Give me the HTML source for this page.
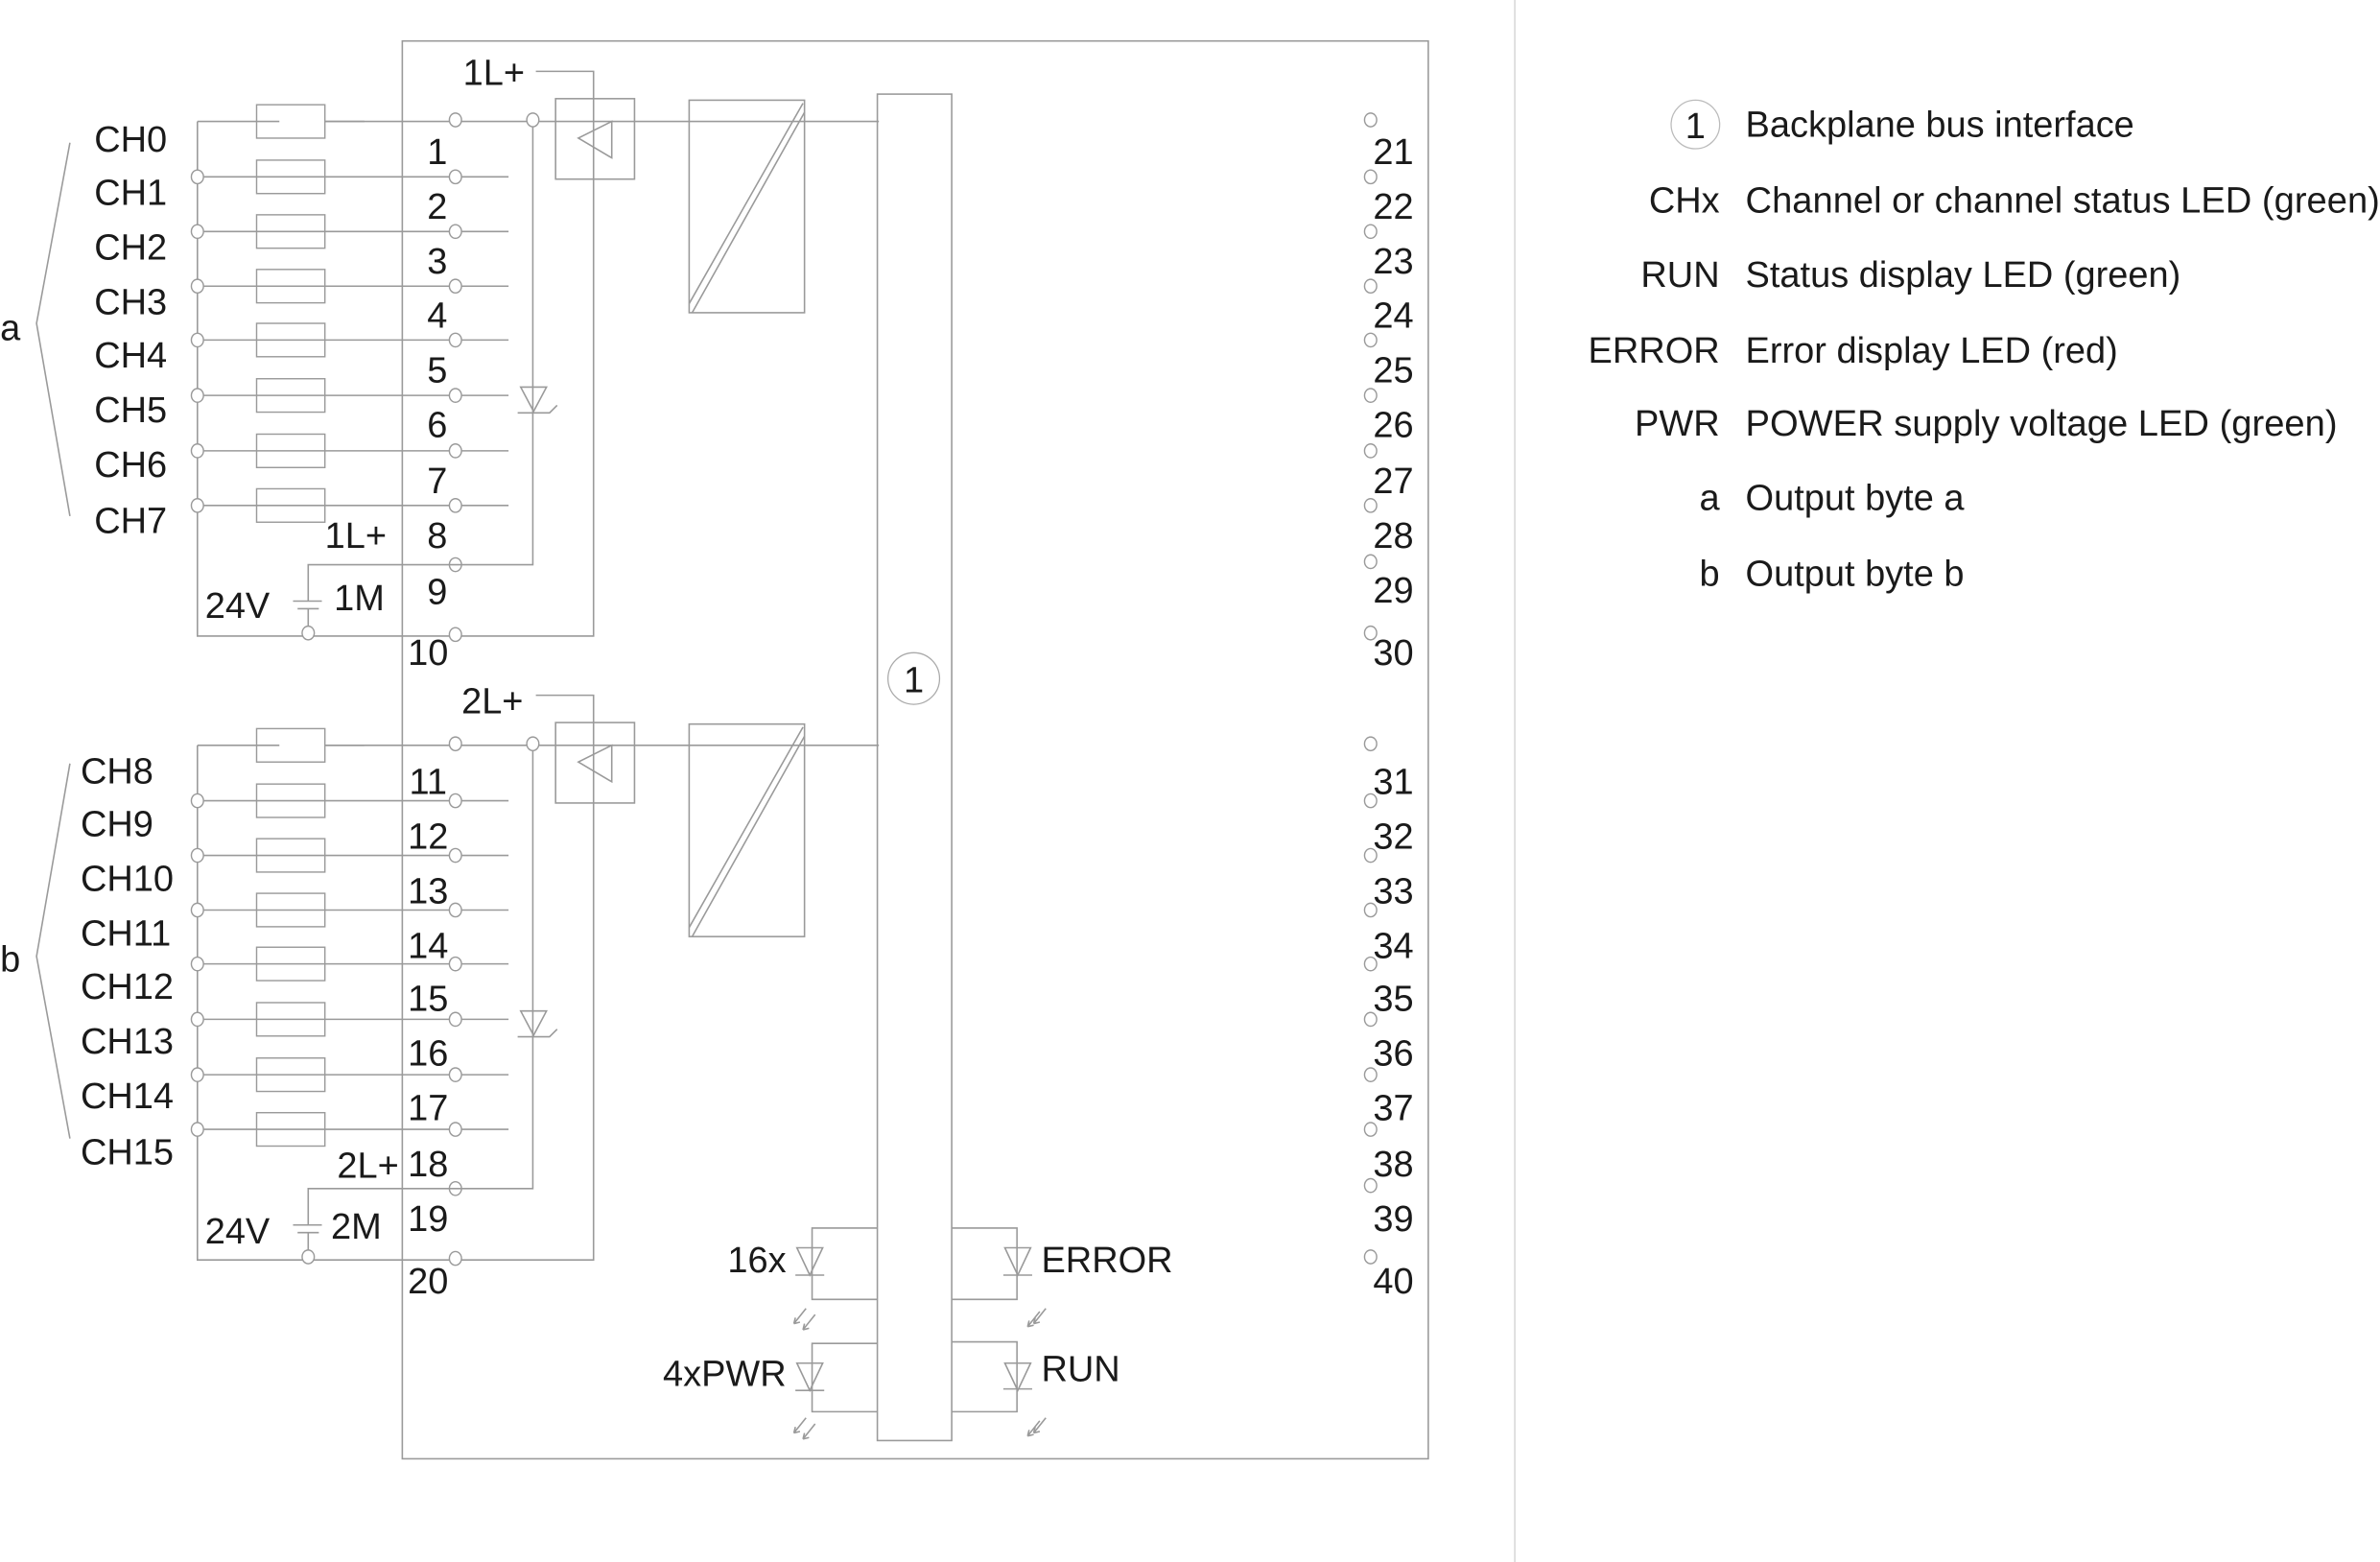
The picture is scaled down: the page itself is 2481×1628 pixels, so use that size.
<!DOCTYPE html>
<html><head><meta charset="utf-8"><style>
html,body{margin:0;padding:0;background:#fff}
svg{display:block}
text{font-family:"Liberation Sans",Arial,sans-serif;font-size:24px;fill:#1a1a1a}
.l{stroke:#9a9a9a;stroke-width:1;fill:none}
.c{stroke:#9a9a9a;stroke-width:0.9;fill:#fff}
</style></head><body>
<svg width="2481" height="1628" viewBox="0 0 1568 1029" xmlns="http://www.w3.org/2000/svg">
<defs>
<g id="blk">
  <!-- left bus -->
  <path class="l" d="M130 80 V419 H391 V47 H353"/>
  <path class="l" d="M130 80 H579"/>
  <path class="l" d="M130 116.5H335M130 152.5H335M130 188.5H335M130 224H335M130 260.5H335M130 297H335M130 333H335"/>
  <g class="c">
    <rect x="169" y="69" width="45" height="22"/>
    <rect x="169" y="105.5" width="45" height="22"/>
    <rect x="169" y="141.5" width="45" height="22"/>
    <rect x="169" y="177.5" width="45" height="22"/>
    <rect x="169" y="213" width="45" height="22"/>
    <rect x="169" y="249.5" width="45" height="22"/>
    <rect x="169" y="286" width="45" height="22"/>
    <rect x="169" y="322" width="45" height="22"/>
  </g>
  <path class="l" d="M169 80H184M214 80H240"/>
  <path class="l" d="M169 116.5H214M169 152.5H214M169 188.5H214M169 224H214M169 260.5H214M169 297H214M169 333H214"/>
  <g class="c">
    <ellipse cx="130" cy="116.5" rx="4" ry="4.5"/><ellipse cx="130" cy="152.5" rx="4" ry="4.5"/>
    <ellipse cx="130" cy="188.5" rx="4" ry="4.5"/><ellipse cx="130" cy="224" rx="4" ry="4.5"/>
    <ellipse cx="130" cy="260.5" rx="4" ry="4.5"/><ellipse cx="130" cy="297" rx="4" ry="4.5"/>
    <ellipse cx="130" cy="333" rx="4" ry="4.5"/>
    <ellipse cx="300" cy="79" rx="4" ry="4.5"/><ellipse cx="300" cy="116.5" rx="4" ry="4.5"/>
    <ellipse cx="300" cy="152.5" rx="4" ry="4.5"/><ellipse cx="300" cy="188.5" rx="4" ry="4.5"/>
    <ellipse cx="300" cy="224" rx="4" ry="4.5"/><ellipse cx="300" cy="260.5" rx="4" ry="4.5"/>
    <ellipse cx="300" cy="297" rx="4" ry="4.5"/><ellipse cx="300" cy="333" rx="4" ry="4.5"/>
    <ellipse cx="300" cy="372" rx="4" ry="4.5"/><ellipse cx="300" cy="418" rx="4" ry="4.5"/>
    <ellipse cx="903" cy="79" rx="4" ry="4.5"/><ellipse cx="903" cy="116.5" rx="4" ry="4.5"/>
    <ellipse cx="903" cy="152.5" rx="4" ry="4.5"/><ellipse cx="903" cy="188.5" rx="4" ry="4.5"/>
    <ellipse cx="903" cy="224" rx="4" ry="4.5"/><ellipse cx="903" cy="260.5" rx="4" ry="4.5"/>
    <ellipse cx="903" cy="297" rx="4" ry="4.5"/><ellipse cx="903" cy="333" rx="4" ry="4.5"/>
    <ellipse cx="903" cy="370" rx="4" ry="4.5"/><ellipse cx="903" cy="417" rx="4" ry="4.5"/>
  </g>
  <!-- 1L+ branch -->
  <path class="l" d="M351 80 V372 H203 V396 M203 401 V417"/>
  <path class="l" d="M193 396H212M196 401H210"/>
  <ellipse class="c" cx="351" cy="79" rx="4" ry="4.5"/>
  <ellipse class="c" cx="203" cy="417" rx="4" ry="4.5"/>
  <!-- diode -->
  <path class="l" d="M343 255 H360 L351.5 271 Z M341 272 H362 L367 267"/>
  <!-- triangle box -->
  <rect class="l" x="366" y="65" width="52" height="53"/>
  <path class="l" d="M403 80 L381 91 L403 104 Z"/>
  <!-- DC/DC -->
  <rect class="l" x="454" y="66" width="76" height="140"/>
  <path class="l" d="M454 200 L529 68 M456 206 L530 74"/>
</g>
</defs>

<!-- divider -->
<line x1="998" y1="0" x2="998" y2="1029" stroke="#d8d8d8" stroke-width="1"/>
<!-- main box -->
<rect class="l" x="265" y="27" width="676" height="934" stroke="#b0b0b0"/>
<use href="#blk"/>
<use href="#blk" transform="translate(0,411)"/>
<!-- bus bar -->
<rect class="l" x="578" y="62" width="49" height="887" fill="#fff"/>
<circle cx="602" cy="447" r="17" fill="#fff" stroke="#aaa" stroke-width="0.8"/>
<text x="602" y="456" text-anchor="middle">1</text>

<!-- brackets -->
<path class="l" d="M46 94 L24 213 L46 340"/>
<path class="l" d="M46 503 L24 630 L46 750"/>
<text x="0" y="224">a</text>
<text x="0" y="640">b</text>

<!-- CH labels -->
<text x="62" y="100">CH0</text><text x="62" y="135">CH1</text><text x="62" y="171">CH2</text>
<text x="62" y="207">CH3</text><text x="62" y="242">CH4</text><text x="62" y="278">CH5</text>
<text x="62" y="314">CH6</text><text x="62" y="351">CH7</text>
<text x="53" y="516">CH8</text><text x="53" y="551">CH9</text><text x="53" y="587">CH10</text>
<text x="53" y="623">CH11</text><text x="53" y="658">CH12</text><text x="53" y="694">CH13</text>
<text x="53" y="730">CH14</text><text x="53" y="767">CH15</text>

<text x="305" y="56">1L+</text><text x="304" y="470">2L+</text>
<text x="214" y="361">1L+</text><text x="222" y="776">2L+</text>
<text x="135" y="407">24V</text><text x="220" y="402">1M</text>
<text x="135" y="819">24V</text><text x="218" y="816">2M</text>

<!-- left numbers -->
<g text-anchor="middle">
<text x="288" y="108">1</text><text x="288" y="144">2</text><text x="288" y="180">3</text>
<text x="288" y="216">4</text><text x="288" y="252">5</text><text x="288" y="288">6</text>
<text x="288" y="325">7</text><text x="288" y="361">8</text><text x="288" y="398">9</text>
<text x="282" y="438">10</text>
<text x="282" y="523">11</text><text x="282" y="559">12</text><text x="282" y="595">13</text>
<text x="282" y="631">14</text><text x="282" y="666">15</text><text x="282" y="702">16</text>
<text x="282" y="738">17</text><text x="282" y="775">18</text><text x="282" y="811">19</text>
<text x="282" y="852">20</text>
<text x="918" y="108">21</text><text x="918" y="144">22</text><text x="918" y="180">23</text>
<text x="918" y="216">24</text><text x="918" y="252">25</text><text x="918" y="288">26</text>
<text x="918" y="325">27</text><text x="918" y="361">28</text><text x="918" y="397">29</text>
<text x="918" y="438">30</text>
<text x="918" y="523">31</text><text x="918" y="559">32</text><text x="918" y="595">33</text>
<text x="918" y="631">34</text><text x="918" y="666">35</text><text x="918" y="702">36</text>
<text x="918" y="738">37</text><text x="918" y="775">38</text><text x="918" y="811">39</text>
<text x="918" y="852">40</text>
</g>

<!-- LEDs -->
<g class="l">
  <path d="M578 809 H535 V856 H578"/>
  <path d="M627 809 H670 V856 H627"/>
  <path d="M578 885 H535 V930 H578"/>
  <path d="M627 884 H670 V930 H627"/>
  <path d="M525 822 H542 L533.5 840 Z M524 840 H543"/>
  <path d="M662 822 H679 L670.5 840 Z M661 840 H680"/>
  <path d="M525 898 H542 L533.5 916 Z M524 916 H543"/>
  <path d="M662 898 H679 L670.5 916 Z M661 915 H680"/>
  <path d="M531 862 L523 872 M537 866 L529 876 M523 872 l1 -4 M523 872 l4 -1 M529 876 l1 -4 M529 876 l4 -1"/>
  <path d="M689 862 L681 872 M685 864 L677 874 M681 872 l1 -4 M681 872 l4 -1 M677 874 l1 -4 M677 874 l4 -1"/>
  <path d="M531 934 L523 944 M537 938 L529 948 M523 944 l1 -4 M523 944 l4 -1 M529 948 l1 -4 M529 948 l4 -1"/>
  <path d="M689 934 L681 944 M685 936 L677 946 M681 944 l1 -4 M681 944 l4 -1 M677 946 l1 -4 M677 946 l4 -1"/>
</g>
<text x="518" y="838" text-anchor="end">16x</text>
<text x="518" y="913" text-anchor="end">4xPWR</text>
<text x="686" y="838">ERROR</text>
<text x="686" y="910">RUN</text>

<!-- legend -->
<circle cx="1117" cy="82" r="16" fill="#fff" stroke="#bbb" stroke-width="0.8"/>
<text x="1117" y="91" text-anchor="middle">1</text>
<g text-anchor="end">
<text x="1133" y="140">CHx</text><text x="1133" y="189">RUN</text>
<text x="1133" y="239">ERROR</text><text x="1133" y="287">PWR</text>
<text x="1133" y="336">a</text><text x="1133" y="386">b</text>
</g>
<text x="1150" y="90">Backplane bus interface</text>
<text x="1150" y="140" textLength="418" lengthAdjust="spacingAndGlyphs">Channel or channel status LED (green)</text>
<text x="1150" y="189">Status display LED (green)</text>
<text x="1150" y="239">Error display LED (red)</text>
<text x="1150" y="287" textLength="390" lengthAdjust="spacingAndGlyphs">POWER supply voltage LED (green)</text>
<text x="1150" y="336">Output byte a</text>
<text x="1150" y="386">Output byte b</text>
</svg>
</body></html>
